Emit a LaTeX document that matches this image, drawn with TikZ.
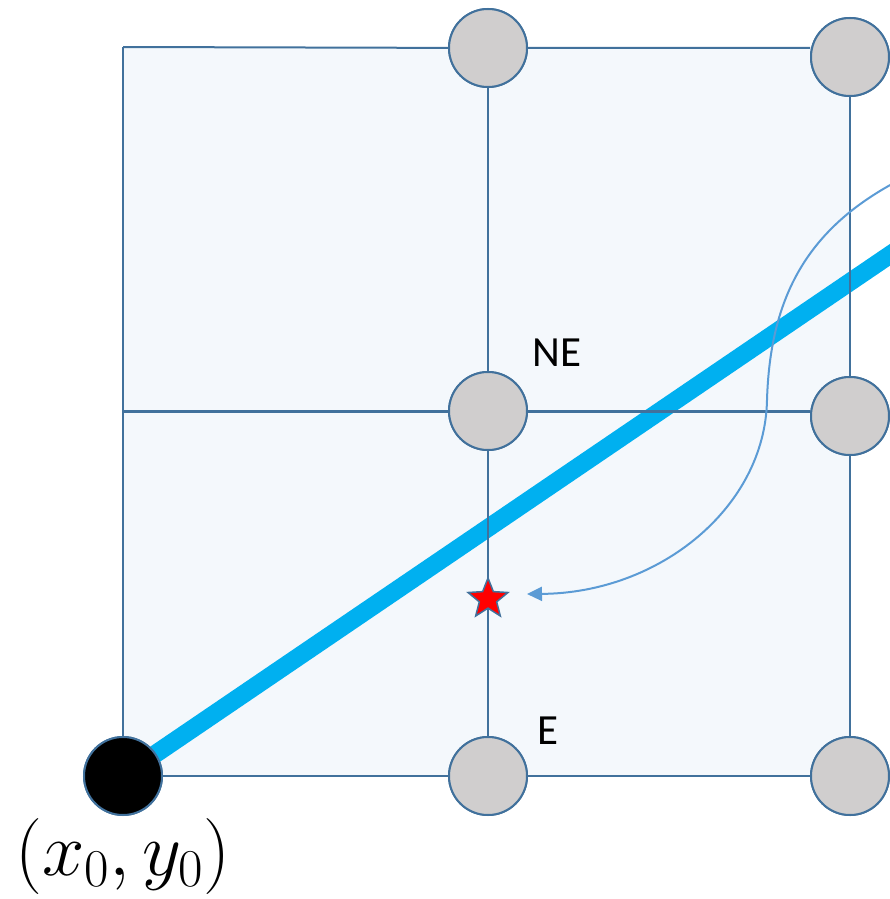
\RequirePackage{fix-cm}
\documentclass[tikz,border=0pt]{standalone}
\usepackage{fontspec}
\setmainfont{Carlito}
\usetikzlibrary{shapes.geometric,arrows.meta}
\definecolor{gridc}{HTML}{41719C}
\definecolor{cellfill}{HTML}{F4F8FC}
\definecolor{dotfill}{HTML}{D0CECE}
\definecolor{linec}{HTML}{00B0F0}
\definecolor{curvec}{HTML}{5B9BD5}
\tikzset{
  gridline/.style={draw=gridc, line width=2pt},
  midline/.style={draw=gridc, line width=3pt},
  dot/.style={circle, draw=gridc, line width=2pt, fill=dotfill, minimum size=78pt, inner sep=0pt},
  startdot/.style={circle, draw=gridc, line width=2pt, fill=black, minimum size=78pt, inner sep=0pt},
  lab/.style={font=\fontsize{43}{50}\selectfont, inner sep=0pt},
}
\begin{document}
\begin{tikzpicture}[x=1pt,y=-1pt]
\useasboundingbox (0,0) rectangle (890,899);
\fill[cellfill] (123,47) rectangle (851,776);
% coordinates
\coordinate (TL) at (123,47);
\coordinate (ML) at (123,411);
\node[startdot] (O) at (123,776) {};
\node[dot] (T1) at (488,48) {};
\node[dot] (T2) at (850,57) {};
\node[dot] (M1) at (488,411) {};
\node[dot] (M2) at (850,416) {};
\node[dot] (B1) at (488,776) {};
\node[dot] (B2) at (850,776) {};
\coordinate (Lend) at (900,248);
\coordinate (Cstart) at (892,184);
% thick blue line
\draw[linec, line width=18pt] (O.center) -- (Lend);
% grid lines
\draw[gridline] (TL) -- (T1) (T1) -- (T1 -| T2.west);
\draw[gridline] (TL) -- (O);
\draw[gridline] (O) -- (B1) (B1) -- (B2);
\draw[gridline] (T1) -- (M1) (M1) -- (B1);
\draw[gridline] (T2) -- (M2) (M2) -- (B2);
\draw[midline] (ML) -- (M1) (M1) -- (M1 -| M2.west);
% redraw nodes on top
\node[startdot] at (123,776) {};
\node[dot] at (488,48) {};
\node[dot] at (850,57) {};
\node[dot] at (488,411) {};
\node[dot] at (850,416) {};
\node[dot] at (488,776) {};
\node[dot] at (850,776) {};
% star
\node[star, star points=5, star point ratio=2.3, draw=gridc, line width=1.5pt, fill=red, minimum size=42pt, inner sep=0pt] (S) at (488,599) {};
\coordinate (Aend) at (527,594);
% curve
\draw[curvec, line width=2pt, -{Triangle[length=15pt,width=14pt]}]
  (Cstart) .. controls (805,232) and (770,300) .. (767,400)
  .. controls (765,507) and (660,593) .. (Aend);
% labels
\node[lab] (NE) at (557,353) {NE};
\node[lab] (E) at (548,731) {E};
\node[font=\fontsize{76}{88}\selectfont, inner sep=0pt] (P) at (123,856) {$(x_0,y_0)$};
\end{tikzpicture}
\end{document}
